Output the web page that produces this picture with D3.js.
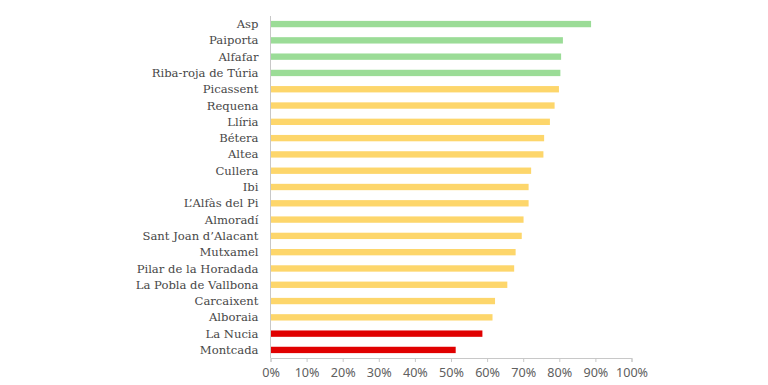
<!DOCTYPE html>
<html>
<head>
<meta charset="utf-8">
<script src="https://cdn.jsdelivr.net/npm/d3@7"></script>
<style>
  body { margin: 0; background: #fff; }
  .label { font-family: "DejaVu Serif", serif; font-size: 11.6px; fill: #474747; }
  .tick text { font-family: "Noto Sans", sans-serif; font-size: 12.6px; fill: #606060; }
</style>
</head>
<body>
<svg id="chart" width="768" height="385"></svg>
<script>
const towns = ['Asp', 'Paiporta', 'Alfafar', 'Riba-roja de Túria', 'Picassent', 'Requena', 'Llíria',
  'Bétera', 'Altea', 'Cullera', 'Ibi', 'L’Alfàs del Pi', 'Almoradí', 'Sant Joan d’Alacant',
  'Mutxamel', 'Pilar de la Horadada', 'La Pobla de Vallbona', 'Carcaixent', 'Alboraia',
  'La Nucia', 'Montcada'];
const values = [0.888, 0.810, 0.805, 0.803, 0.799, 0.787, 0.774,
  0.758, 0.756, 0.722, 0.715, 0.715, 0.701, 0.696,
  0.679, 0.675, 0.656, 0.622, 0.615,
  0.587, 0.513];
const groups = ['high', 'high', 'high', 'high', 'mid', 'mid', 'mid',
  'mid', 'mid', 'mid', 'mid', 'mid', 'mid', 'mid',
  'mid', 'mid', 'mid', 'mid', 'mid',
  'low', 'low'];
const tickValues = [0, 0.1, 0.2, 0.3, 0.4, 0.5, 0.6, 0.7, 0.8, 0.9, 1];

const colors = { high: '#9bdc97', mid: '#fdd66b', low: '#e00000' };

const svg = d3.select('#chart');
const margin = { top: 16, left: 270.5, right: 136.5, bottom: 27 };
const width = 768 - margin.left - margin.right;
const height = 358 - margin.top;

const data = towns.map((t, i) => ({ town: t, value: values[i], group: groups[i] }));

const x = d3.scaleLinear().domain([0, 1]).range([0, width]);
const y = d3.scaleBand().domain(towns).range([0, height]).paddingInner(0.61).paddingOuter(0.3);

const g = svg.append('g').attr('transform', 'translate(' + margin.left + ',' + margin.top + ')');

g.selectAll('.bar')
  .data(data)
  .enter().append('rect')
  .attr('class', 'bar')
  .attr('x', 0)
  .attr('y', d => y(d.town))
  .attr('width', d => x(d.value))
  .attr('height', y.bandwidth())
  .attr('fill', d => colors[d.group]);

g.selectAll('.label')
  .data(data)
  .enter().append('text')
  .attr('class', 'label')
  .attr('x', -12)
  .attr('y', d => y(d.town) + y.bandwidth() / 2)
  .attr('dy', '0.35em')
  .attr('text-anchor', 'end')
  .text(d => d.town);

// left axis line
g.append('line')
  .attr('x1', 0).attr('x2', 0)
  .attr('y1', 0).attr('y2', height)
  .attr('stroke', '#c8c8c8');

const xAxis = g.append('g')
  .attr('transform', 'translate(0,' + height + ')')
  .call(d3.axisBottom(x).tickValues(tickValues).tickFormat(d3.format('.0%')).tickSize(4).tickPadding(6));
xAxis.selectAll('path, line').attr('stroke', '#c8c8c8');
</script>
</body>
</html>
